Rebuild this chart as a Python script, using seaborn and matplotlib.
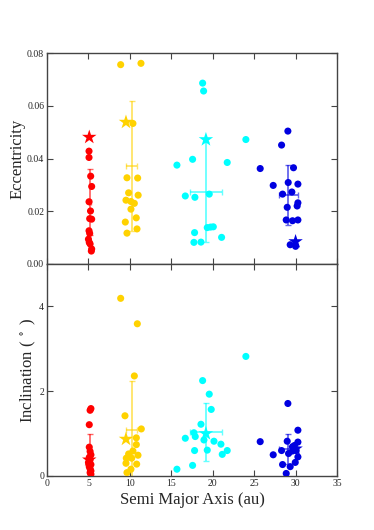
import matplotlib
matplotlib.use("Agg")
import matplotlib.pyplot as plt
import numpy as np
import pandas as pd
import seaborn as sns

# ---- data ----
groups = ["red", "yellow", "cyan", "blue"]
colors = {"red": "#ff0000", "yellow": "#ffd200", "cyan": "#00ffff", "blue": "#0000e0"}

# eccentricity panel
red_a_e = [5.07, 5.07, 5.27, 5.39, 5.07, 5.25, 5.15, 5.39, 5.07, 5.15, 5.0, 5.1, 5.2, 5.39, 5.35]
red_e = [0.0428, 0.0404, 0.0333, 0.0294, 0.0236, 0.0201, 0.0172, 0.0170, 0.0126,
         0.0116, 0.0094, 0.0082, 0.0076, 0.0057, 0.0049]
yel_a_e = [8.89, 11.34, 10.37, 9.65, 10.94, 9.85, 11.0, 9.53, 10.13, 10.54, 10.13,
           9.45, 10.77, 10.86, 9.65]
yel_e = [0.0756, 0.0761, 0.0533, 0.0327, 0.0326, 0.0270, 0.0261, 0.0242, 0.0237,
         0.0230, 0.0208, 0.0159, 0.0175, 0.0133, 0.0117]
cyan_a_e = [18.78, 18.9, 24.0, 17.57, 15.68, 21.75, 16.69, 17.85, 19.58, 19.34, 19.74,
            20.07, 21.07, 17.81, 17.73, 18.58]
cyan_e = [0.0686, 0.0656, 0.0472, 0.0397, 0.0375, 0.0385, 0.0258, 0.0253, 0.0265,
          0.0138, 0.0140, 0.0141, 0.0101, 0.0119, 0.0082, 0.0083]
blue_a_e = [29.07, 28.31, 25.73, 29.75, 27.3, 29.11, 30.28, 28.43, 29.55, 28.99, 30.28,
            30.19, 28.87, 29.63, 30.28, 29.35, 30.0]
blue_e = [0.0504, 0.0451, 0.0362, 0.0365, 0.0298, 0.0309, 0.0303, 0.0265, 0.0273,
          0.0215, 0.0232, 0.0220, 0.0167, 0.0164, 0.0167, 0.0073, 0.0067]

# inclination panel (degrees)
red_a_i = [5.3, 5.2, 5.1, 5.1, 5.2, 5.3, 5.1, 5.2, 5.0, 5.3, 5.1, 5.2, 5.3, 5.2, 5.3]
red_i = [1.59, 1.55, 1.21, 0.68, 0.58, 0.50, 0.44, 0.38, 0.32, 0.27, 0.22, 0.17,
         0.12, 0.08, 0.04]
yel_a_i = [8.89, 10.9, 10.54, 9.41, 11.38, 10.78, 10.78, 10.37, 10.98, 9.85, 10.22,
           9.57, 9.53, 10.82, 10.13, 9.65]
yel_i = [4.19, 3.59, 2.36, 1.42, 1.11, 0.90, 0.74, 0.59, 0.49, 0.52, 0.42, 0.42,
         0.30, 0.28, 0.16, 0.08]
cyan_a_i = [24.0, 18.78, 19.58, 19.82, 18.58, 17.73, 17.89, 16.69, 18.94, 20.15,
            20.99, 17.81, 19.34, 21.75, 21.15, 17.57, 15.68]
cyan_i = [2.82, 2.25, 1.93, 1.57, 1.22, 1.02, 0.93, 0.89, 0.85, 0.82, 0.75, 0.60,
          0.61, 0.60, 0.51, 0.25, 0.16]
blue_a_i = [29.07, 30.28, 25.73, 28.99, 30.28, 29.87, 29.63, 28.31, 29.63, 30.07,
            27.3, 29.15, 30.28, 29.96, 28.43, 29.35, 28.87]
blue_i = [1.71, 1.08, 0.81, 0.82, 0.80, 0.72, 0.69, 0.60, 0.59, 0.60, 0.50, 0.53,
          0.45, 0.32, 0.27, 0.22, 0.06]

# reference planets (stars)
star_a = [5.1, 9.53, 19.18, 30.0]
star_e = [0.0481, 0.0538, 0.0472, 0.0085]
star_i = [0.38, 0.87, 1.00, 0.64]

# mean +/- std of each group
mean_a = [5.2, 10.24, 19.2, 29.1]
std_a = [0.1, 0.67, 1.93, 1.16]
mean_e = [0.0236, 0.0372, 0.0273, 0.0261]
std_e = [0.0126, 0.0246, 0.0190, 0.0115]
mean_i = [0.39, 1.08, 1.04, 0.64]
std_i = [0.59, 1.15, 0.69, 0.35]


def make_df(a_lists, v_lists):
    frames = []
    for g, a, v in zip(groups, a_lists, v_lists):
        frames.append(pd.DataFrame({"a": a, "val": v, "group": g}))
    return pd.concat(frames, ignore_index=True)


ecc_df = make_df([red_a_e, yel_a_e, cyan_a_e, blue_a_e], [red_e, yel_e, cyan_e, blue_e])
inc_df = make_df([red_a_i, yel_a_i, cyan_a_i, blue_a_i], [red_i, yel_i, cyan_i, blue_i])
star_df = pd.DataFrame({"a": star_a, "e": star_e, "i": star_i, "group": groups})

sns.set_style("ticks")
plt.rcParams["font.family"] = ["Liberation Serif", "DejaVu Serif"]
plt.rcParams["mathtext.fontset"] = "stix"
plt.rcParams["xtick.direction"] = "in"
plt.rcParams["ytick.direction"] = "in"

fig = plt.figure(figsize=(3.74, 5.30), dpi=100)
ax1 = fig.add_axes([0.1257, 0.5019, 0.7754, 0.398])
ax2 = fig.add_axes([0.1257, 0.1019, 0.7754, 0.4])


def draw_panel(ax, df, star_col, mean_v, std_v):
    for k, g in enumerate(groups):
        ax.errorbar(mean_a[k], mean_v[k], xerr=std_a[k], yerr=std_v[k],
                    color=colors[g], alpha=0.6, lw=1.3, capsize=2.5,
                    capthick=1.0, zorder=2)
    sns.scatterplot(data=df, x="a", y="val", hue="group", palette=colors,
                    s=26, linewidth=0, legend=False, ax=ax, zorder=3)
    sns.scatterplot(data=star_df, x="a", y=star_col, hue="group", palette=colors,
                    marker="*", s=120, linewidth=0, legend=False, ax=ax, zorder=4)
    ax.set_xlim(0, 35)
    ax.set_xticks([0, 5, 10, 15, 20, 25, 30, 35])
    ax.tick_params(axis="both", which="both", direction="in", top=True, right=True,
                   length=4, width=0.8, color="#444444", labelsize=7, pad=2)
    for sp in ax.spines.values():
        sp.set_color("#444444")
        sp.set_linewidth(1.0)


draw_panel(ax1, ecc_df, "e", mean_e, std_e)
ax1.set_ylim(0, 0.08)
ax1.set_yticks([0.0, 0.02, 0.04, 0.06, 0.08])
ax1.set_yticklabels(["0.00", "0.02", "0.04", "0.06", "0.08"])
ax1.set_xticklabels([])
ax1.set_xlabel("")
ax1.set_ylabel("Eccentricity", fontsize=12, labelpad=1)

draw_panel(ax2, inc_df, "i", mean_i, std_i)
ax2.set_ylim(0, 5)
ax2.set_yticks([0, 2, 4])
ax2.set_xlabel("Semi Major Axis (au)", fontsize=12, labelpad=3)
ax2.set_ylabel(r"Inclination ( $^\circ$ )", fontsize=12, labelpad=1)

fig.savefig("out.png", dpi=100)
